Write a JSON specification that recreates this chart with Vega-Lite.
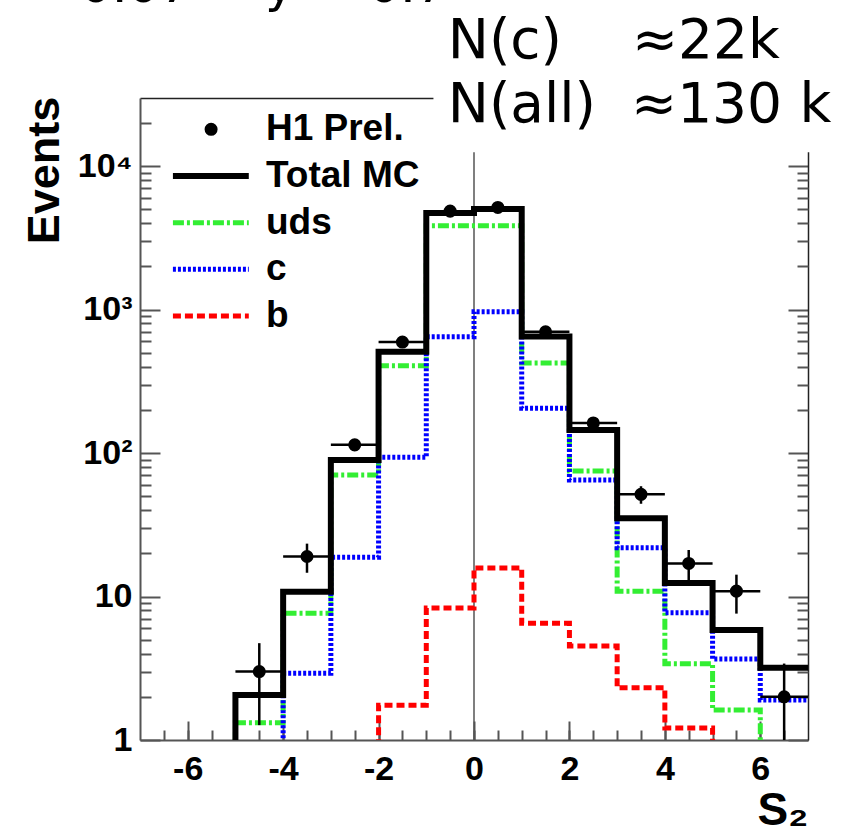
{
  "$schema": "https://vega.github.io/schema/vega-lite/v6.json",
  "width": 668,
  "height": 642,
  "autosize": {"type": "none"},
  "padding": {"left": 140, "top": 98, "right": 45, "bottom": 96},
  "background": "white",
  "config": {"view": {"stroke": null}, "axis": {"grid": false, "zindex": 0}},
  "datasets": {
    "one": [{}],
    "hist": [
      {"series": "total", "i": 0, "s": -5, "events": 0.5},
      {"series": "total", "i": 1, "s": -5, "events": 2.06},
      {"series": "total", "i": 2, "s": -4, "events": 10.8},
      {"series": "total", "i": 3, "s": -3, "events": 89.4},
      {"series": "total", "i": 4, "s": -2, "events": 508},
      {"series": "total", "i": 5, "s": -1, "events": 4700},
      {"series": "total", "i": 6, "s": 0, "events": 5015},
      {"series": "total", "i": 7, "s": 1, "events": 650},
      {"series": "total", "i": 8, "s": 2, "events": 144.6},
      {"series": "total", "i": 9, "s": 3, "events": 35.1},
      {"series": "total", "i": 10, "s": 4, "events": 12.4},
      {"series": "total", "i": 11, "s": 5, "events": 5.84},
      {"series": "total", "i": 12, "s": 6, "events": 3.19},
      {"series": "total", "i": 13, "s": 7, "events": 3.19},
      {"series": "uds", "i": 0, "s": -5, "events": 0.5},
      {"series": "uds", "i": 1, "s": -5, "events": 1.32},
      {"series": "uds", "i": 2, "s": -4, "events": 7.64},
      {"series": "uds", "i": 3, "s": -3, "events": 70.3},
      {"series": "uds", "i": 4, "s": -2, "events": 406},
      {"series": "uds", "i": 5, "s": -1, "events": 3840},
      {"series": "uds", "i": 6, "s": 0, "events": 3840},
      {"series": "uds", "i": 7, "s": 1, "events": 424},
      {"series": "uds", "i": 8, "s": 2, "events": 74.9},
      {"series": "uds", "i": 9, "s": 3, "events": 10.9},
      {"series": "uds", "i": 10, "s": 4, "events": 3.4},
      {"series": "uds", "i": 11, "s": 5, "events": 1.62},
      {"series": "uds", "i": 12, "s": 6, "events": 0.5},
      {"series": "c", "i": 0, "s": -4, "events": 0.5},
      {"series": "c", "i": 1, "s": -4, "events": 2.92},
      {"series": "c", "i": 2, "s": -3, "events": 18.8},
      {"series": "c", "i": 3, "s": -2, "events": 93.3},
      {"series": "c", "i": 4, "s": -1, "events": 646},
      {"series": "c", "i": 5, "s": 0, "events": 966},
      {"series": "c", "i": 6, "s": 1, "events": 205},
      {"series": "c", "i": 7, "s": 2, "events": 64.8},
      {"series": "c", "i": 8, "s": 3, "events": 21.9},
      {"series": "c", "i": 9, "s": 4, "events": 7.7},
      {"series": "c", "i": 10, "s": 5, "events": 3.67},
      {"series": "c", "i": 11, "s": 6, "events": 1.9},
      {"series": "c", "i": 12, "s": 7, "events": 1.9},
      {"series": "b", "i": 0, "s": -2, "events": 0.5},
      {"series": "b", "i": 1, "s": -2, "events": 1.75},
      {"series": "b", "i": 2, "s": -1, "events": 8.3},
      {"series": "b", "i": 3, "s": 0, "events": 15.8},
      {"series": "b", "i": 4, "s": 1, "events": 6.5},
      {"series": "b", "i": 5, "s": 2, "events": 4.52},
      {"series": "b", "i": 6, "s": 3, "events": 2.31},
      {"series": "b", "i": 7, "s": 4, "events": 1.21},
      {"series": "b", "i": 8, "s": 5, "events": 0.5}
    ],
    "pts": [
      {"s": -4.5, "slo": -5, "shi": -4, "events": 3, "elo": 1.27, "ehi": 4.73},
      {"s": -3.5, "slo": -4, "shi": -3, "events": 19, "elo": 14.64, "ehi": 23.36},
      {"s": -2.5, "slo": -3, "shi": -2, "events": 114, "elo": 103.3, "ehi": 124.7},
      {"s": -1.5, "slo": -2, "shi": -1, "events": 593, "elo": 568.6, "ehi": 617.4},
      {"s": -0.5, "slo": -1, "shi": 0, "events": 4850, "elo": 4780, "ehi": 4920},
      {"s": 0.5, "slo": 0, "shi": 1, "events": 5150, "elo": 5078, "ehi": 5222},
      {"s": 1.5, "slo": 1, "shi": 2, "events": 700, "elo": 673.5, "ehi": 726.5},
      {"s": 2.5, "slo": 2, "shi": 3, "events": 162, "elo": 149.3, "ehi": 174.7},
      {"s": 3.5, "slo": 3, "shi": 4, "events": 51.5, "elo": 44.3, "ehi": 58.7},
      {"s": 4.5, "slo": 4, "shi": 5, "events": 17, "elo": 12.9, "ehi": 21.1},
      {"s": 5.5, "slo": 5, "shi": 6, "events": 10.9, "elo": 7.6, "ehi": 14.2},
      {"s": 6.5, "slo": 6, "shi": 7, "events": 2, "elo": 0.59, "ehi": 3.41}
    ]
  },
  "resolve": {"axis": {"x": "independent", "y": "independent"}},
  "layer": [
    {
      "data": {"name": "one"},
      "mark": {"type": "rule", "color": "#555555", "strokeWidth": 1.5},
      "encoding": {"x": {"datum": 0, "type": "quantitative", "axis": null}}
    },
    {
      "data": {"name": "hist"},
      "transform": [{"filter": "datum.series == 'uds'"}],
      "mark": {"type": "line", "interpolate": "step-after", "color": "#33ee33", "strokeWidth": 5, "strokeDash": [11, 3, 3, 3], "clip": true},
      "encoding": {
        "x": {"field": "s", "type": "quantitative", "scale": {"domain": [-7, 7], "nice": false, "zero": false},
          "axis": {"orient": "bottom", "values": [-6, -4, -2, 0, 2, 4, 6], "tickSize": -19, "tickWidth": 2, "tickColor": "#555555", "labels": false, "domain": false, "title": null}},
        "y": {"field": "events", "type": "quantitative", "scale": {"type": "log", "domain": [1, 29800], "nice": false},
          "axis": {"orient": "left", "values": [1, 10, 100, 1000, 10000], "tickSize": -20, "tickWidth": 2, "tickColor": "#555555", "labels": false, "domain": false, "title": null}},
        "order": {"field": "i", "type": "quantitative"}
      }
    },
    {
      "data": {"name": "hist"},
      "transform": [{"filter": "datum.series == 'c'"}],
      "mark": {"type": "line", "interpolate": "step-after", "color": "#0000ff", "strokeWidth": 5, "strokeDash": [3, 2], "clip": true},
      "encoding": {
        "x": {"field": "s", "type": "quantitative", "scale": {"domain": [-7, 7], "nice": false, "zero": false},
          "axis": {"orient": "bottom", "values": [-6.5, -6, -5.5, -5, -4.5, -4, -3.5, -3, -2.5, -2, -1.5, -1, -0.5, 0, 0.5, 1, 1.5, 2, 2.5, 3, 3.5, 4, 4.5, 5, 5.5, 6, 6.5], "tickSize": -10, "tickWidth": 2, "tickColor": "#555555", "labels": false, "domain": false, "title": null}},
        "y": {"field": "events", "type": "quantitative", "scale": {"type": "log", "domain": [1, 29800], "nice": false},
          "axis": {"orient": "left", "values": [2, 3, 4, 5, 6, 7, 8, 9, 20, 30, 40, 50, 60, 70, 80, 90, 200, 300, 400, 500, 600, 700, 800, 900, 2000, 3000, 4000, 5000, 6000, 7000, 8000, 9000, 20000], "tickSize": -11, "tickWidth": 2, "tickColor": "#555555", "labels": false, "domain": false, "title": null}},
        "order": {"field": "i", "type": "quantitative"}
      }
    },
    {
      "data": {"name": "hist"},
      "transform": [{"filter": "datum.series == 'b'"}],
      "mark": {"type": "line", "interpolate": "step-after", "color": "#ff0000", "strokeWidth": 5, "strokeDash": [8, 4], "clip": true},
      "encoding": {
        "x": {"field": "s", "type": "quantitative", "scale": {"domain": [-7, 7], "nice": false, "zero": false},
          "axis": {"orient": "top", "ticks": false, "labels": false, "domain": true, "domainColor": "#222222", "domainWidth": 1.5, "title": null}},
        "y": {"field": "events", "type": "quantitative", "scale": {"type": "log", "domain": [1, 29800], "nice": false},
          "axis": {"orient": "right", "values": [1, 10, 100, 1000, 10000], "tickSize": -20, "tickWidth": 2, "tickColor": "#555555", "labels": false, "domain": true, "domainColor": "#222222", "domainWidth": 1.5, "title": null}},
        "order": {"field": "i", "type": "quantitative"}
      }
    },
    {
      "data": {"name": "hist"},
      "transform": [{"filter": "datum.series == 'total'"}],
      "mark": {"type": "line", "interpolate": "step-after", "color": "#000000", "strokeWidth": 6, "strokeJoin": "miter", "clip": true},
      "encoding": {
        "x": {"field": "s", "type": "quantitative", "scale": {"domain": [-7, 7], "nice": false, "zero": false},
          "axis": {"orient": "bottom", "values": [-6, -4, -2, 0, 2, 4, 6], "ticks": false, "domain": true, "domainColor": "#555555", "domainWidth": 2,
            "labelExpr": "datum.value < 0 ? '-' + abs(datum.value) : '' + datum.value",
            "labelFont": "Liberation Sans", "labelFontSize": 34, "labelFontWeight": "bold", "labelColor": "#000000", "labelPadding": 12, "labelFlush": false,
            "title": "S₂", "titleFont": "Liberation Sans", "titleFontSize": 46, "titleFontWeight": "bold", "titleColor": "#000000",
            "titleX": 668, "titleY": 84, "titleAlign": "right", "titleBaseline": "alphabetic"}},
        "y": {"field": "events", "type": "quantitative", "scale": {"type": "log", "domain": [1, 29800], "nice": false},
          "axis": {"orient": "left", "values": [1, 10, 100, 1000, 10000], "ticks": false, "domain": true, "domainColor": "#555555", "domainWidth": 2,
            "labelExpr": "datum.value == 1 ? '1' : datum.value == 10 ? '10' : datum.value == 100 ? '10²' : datum.value == 1000 ? '10³' : '10⁴'",
            "labelFont": "Liberation Sans", "labelFontSize": 34, "labelFontWeight": "bold", "labelColor": "#000000", "labelPadding": 8,
            "title": "Events", "titleFont": "Liberation Sans", "titleFontSize": 45, "titleFontWeight": "bold", "titleColor": "#000000",
            "titleAngle": -90, "titleX": -82, "titleY": 72, "titleAlign": "center", "titleBaseline": "alphabetic"}},
        "order": {"field": "i", "type": "quantitative"}
      }
    },
    {
      "data": {"name": "pts"},
      "mark": {"type": "rule", "color": "#000000", "strokeWidth": 2.5, "clip": true},
      "encoding": {
        "x": {"field": "slo", "type": "quantitative", "axis": null},
        "x2": {"field": "shi"},
        "y": {"field": "events", "type": "quantitative", "axis": null}
      }
    },
    {
      "data": {"name": "pts"},
      "mark": {"type": "rule", "color": "#000000", "strokeWidth": 2.5, "clip": true},
      "encoding": {
        "x": {"field": "s", "type": "quantitative", "axis": null},
        "y": {"field": "elo", "type": "quantitative", "axis": null},
        "y2": {"field": "ehi"}
      }
    },
    {
      "data": {"name": "pts"},
      "mark": {"type": "circle", "color": "#000000", "opacity": 1, "size": 170, "clip": true},
      "encoding": {
        "x": {"field": "s", "type": "quantitative", "axis": null},
        "y": {"field": "events", "type": "quantitative",
          "axis": {"orient": "right", "values": [2, 3, 4, 5, 6, 7, 8, 9, 20, 30, 40, 50, 60, 70, 80, 90, 200, 300, 400, 500, 600, 700, 800, 900, 2000, 3000, 4000, 5000, 6000, 7000, 8000, 9000, 20000], "tickSize": -11, "tickWidth": 2, "tickColor": "#555555", "labels": false, "domain": false, "title": null}}
      }
    },
    {
      "data": {"name": "one"},
      "mark": {"type": "circle", "color": "#000000", "opacity": 1, "size": 170},
      "encoding": {"x": {"datum": -5.51, "type": "quantitative", "axis": null}, "y": {"datum": 18030, "type": "quantitative", "axis": null}}
    },
    {
      "data": {"name": "one"},
      "mark": {"type": "rule", "color": "#000000", "strokeWidth": 6},
      "encoding": {"x": {"datum": -6.31, "type": "quantitative", "axis": null}, "x2": {"datum": -4.72}, "y": {"datum": 8520, "type": "quantitative", "axis": null}}
    },
    {
      "data": {"name": "one"},
      "mark": {"type": "rule", "color": "#33ee33", "strokeWidth": 5, "strokeDash": [11, 3, 3, 3]},
      "encoding": {"x": {"datum": -6.31, "type": "quantitative", "axis": null}, "x2": {"datum": -4.72}, "y": {"datum": 4027, "type": "quantitative", "axis": null}}
    },
    {
      "data": {"name": "one"},
      "mark": {"type": "rule", "color": "#0000ff", "strokeWidth": 5, "strokeDash": [3, 2]},
      "encoding": {"x": {"datum": -6.31, "type": "quantitative", "axis": null}, "x2": {"datum": -4.72}, "y": {"datum": 1905, "type": "quantitative", "axis": null}}
    },
    {
      "data": {"name": "one"},
      "mark": {"type": "rule", "color": "#ff0000", "strokeWidth": 5, "strokeDash": [8, 4]},
      "encoding": {"x": {"datum": -6.31, "type": "quantitative", "axis": null}, "x2": {"datum": -4.72}, "y": {"datum": 901, "type": "quantitative", "axis": null}}
    },
    {
      "data": {"name": "one"},
      "mark": {"type": "text", "text": "H1 Prel.", "font": "Liberation Sans", "fontSize": 37, "fontWeight": "bold", "align": "left", "baseline": "middle", "color": "#000000"},
      "encoding": {"x": {"datum": -4.36, "type": "quantitative", "axis": null}, "y": {"datum": 18030, "type": "quantitative", "axis": null}}
    },
    {
      "data": {"name": "one"},
      "mark": {"type": "text", "text": "Total MC", "font": "Liberation Sans", "fontSize": 37, "fontWeight": "bold", "align": "left", "baseline": "middle", "color": "#000000"},
      "encoding": {"x": {"datum": -4.36, "type": "quantitative", "axis": null}, "y": {"datum": 8520, "type": "quantitative", "axis": null}}
    },
    {
      "data": {"name": "one"},
      "mark": {"type": "text", "text": "uds", "font": "Liberation Sans", "fontSize": 37, "fontWeight": "bold", "align": "left", "baseline": "middle", "color": "#000000"},
      "encoding": {"x": {"datum": -4.36, "type": "quantitative", "axis": null}, "y": {"datum": 4027, "type": "quantitative", "axis": null}}
    },
    {
      "data": {"name": "one"},
      "mark": {"type": "text", "text": "c", "font": "Liberation Sans", "fontSize": 37, "fontWeight": "bold", "align": "left", "baseline": "middle", "color": "#000000"},
      "encoding": {"x": {"datum": -4.36, "type": "quantitative", "axis": null}, "y": {"datum": 1905, "type": "quantitative", "axis": null}}
    },
    {
      "data": {"name": "one"},
      "mark": {"type": "text", "text": "b", "font": "Liberation Sans", "fontSize": 37, "fontWeight": "bold", "align": "left", "baseline": "middle", "color": "#000000"},
      "encoding": {"x": {"datum": -4.36, "type": "quantitative", "axis": null}, "y": {"datum": 901, "type": "quantitative", "axis": null}}
    },
    {
      "data": {"name": "one"},
      "mark": {"type": "rect", "color": "#ffffff", "opacity": 1},
      "encoding": {"x": {"datum": -0.85, "type": "quantitative", "axis": null}, "x2": {"datum": 8.5}, "y": {"datum": 12500, "type": "quantitative", "axis": null}, "y2": {"datum": 10000000}}
    },
    {
      "data": {"name": "one"},
      "mark": {"type": "text", "text": "0.07 < y < 0.7", "font": "DejaVu Sans", "fontSize": 50, "align": "left", "baseline": "alphabetic", "color": "#000000"},
      "encoding": {"x": {"datum": -8.26, "type": "quantitative", "axis": null}, "y": {"datum": 138000, "type": "quantitative", "axis": null}}
    },
    {
      "data": {"name": "one"},
      "mark": {"type": "text", "text": "N(c)\u00a0\u00a0\u00a0\u00a0≈22k", "font": "DejaVu Sans", "fontSize": 55, "align": "left", "baseline": "alphabetic", "color": "#000000"},
      "encoding": {"x": {"datum": -0.55, "type": "quantitative", "axis": null}, "y": {"datum": 56600, "type": "quantitative", "axis": null}}
    },
    {
      "data": {"name": "one"},
      "mark": {"type": "text", "text": "N(all)\u00a0\u00a0≈130\u00a0k", "font": "DejaVu Sans", "fontSize": 55, "align": "left", "baseline": "alphabetic", "color": "#000000"},
      "encoding": {"x": {"datum": -0.55, "type": "quantitative", "axis": null}, "y": {"datum": 20270, "type": "quantitative", "axis": null}}
    }
  ]
}
